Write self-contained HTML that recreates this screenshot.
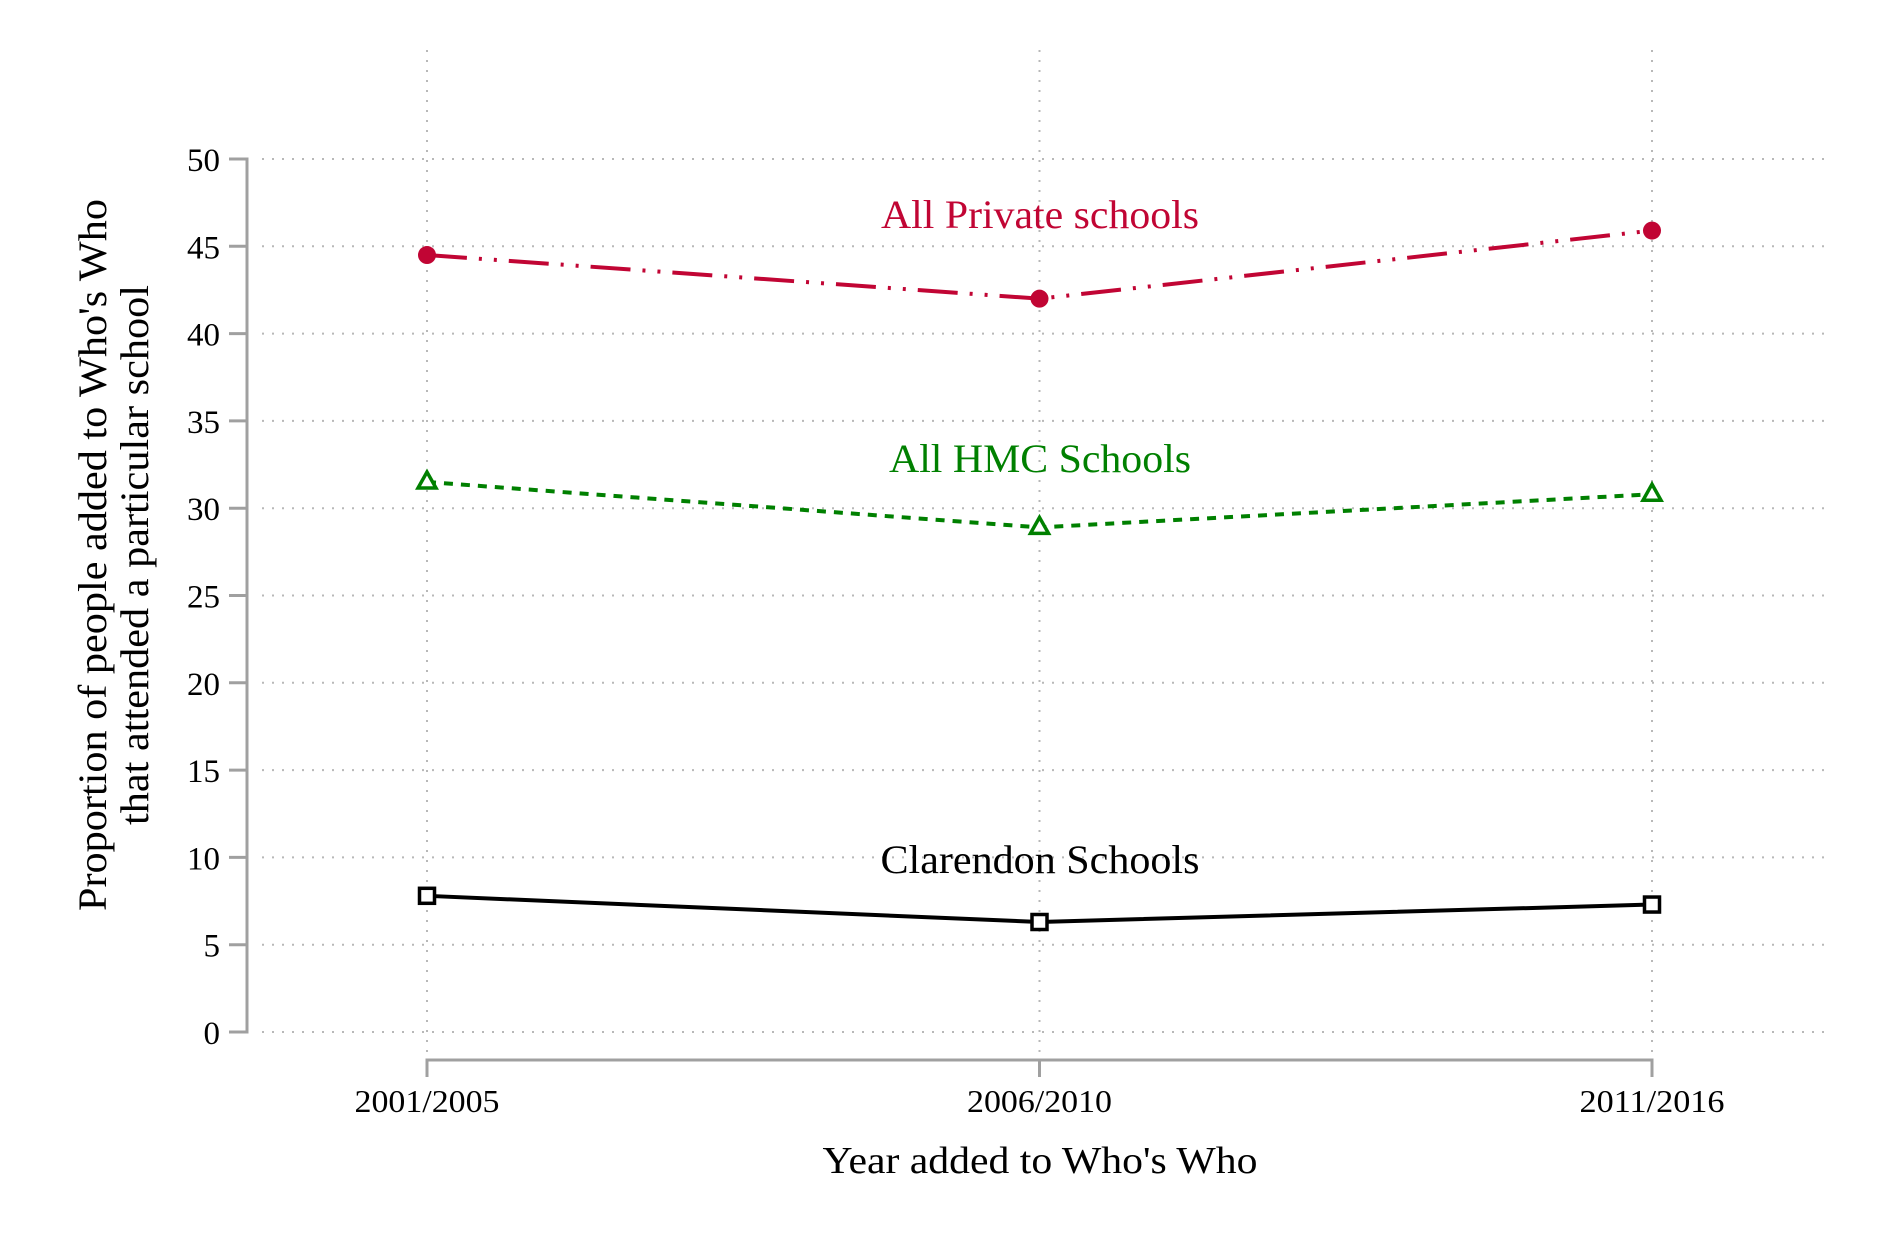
<!DOCTYPE html>
<html><head><meta charset="utf-8"><style>
html,body{margin:0;padding:0;background:#fff;}
svg{display:block;font-family:"Liberation Serif",serif;}
</style></head><body>
<svg id="chart" width="1878" height="1252" viewBox="0 0 1878 1252" xmlns="http://www.w3.org/2000/svg">
<rect width="1878" height="1252" fill="#fff"/>
<g id="grid"></g>
<g id="axes"></g>
<g id="series"></g>
<text transform="translate(106,555) rotate(-90)" text-anchor="middle" font-size="40" textLength="712" lengthAdjust="spacingAndGlyphs">Proportion of people added to Who's Who</text>
<text transform="translate(148,555) rotate(-90)" text-anchor="middle" font-size="40" textLength="540" lengthAdjust="spacingAndGlyphs">that attended a particular school</text>
<text x="1040" y="1173" text-anchor="middle" font-size="38" textLength="435" lengthAdjust="spacingAndGlyphs">Year added to Who's Who</text>
</svg>
<script>
const categories = ["2001/2005","2006/2010","2011/2016"];
const privateVals = [44.5, 42.0, 45.9];
const hmcVals = [31.5, 28.9, 30.8];
const clarendonVals = [7.8, 6.3, 7.3];
const yTicks = [0,5,10,15,20,25,30,35,40,45,50];
const seriesNames = ["All Private schools","All HMC Schools","Clarendon Schools"];

const NS="http://www.w3.org/2000/svg";
const xPos = i => 427 + i*612.5;
const yPos = v => 1032 - v*17.46;
function mk(tag, attrs, parent, txt){const e=document.createElementNS(NS,tag);for(const k in attrs)e.setAttribute(k,attrs[k]);if(txt!==undefined)e.textContent=txt;parent.appendChild(e);return e;}
const grid=document.getElementById('grid'), axes=document.getElementById('axes'), series=document.getElementById('series');

yTicks.forEach(t=>{
  const g=mk('line',{x1:262,x2:1830,y1:yPos(t),y2:yPos(t),stroke:'#b8b8b8','stroke-width':2,'stroke-dasharray':'2 8'},grid);
  
  
  const tk=mk('line',{x1:229,x2:247,y1:yPos(t),y2:yPos(t),stroke:'#a0a0a0','stroke-width':3},axes);
  
  
  const lb=mk('text',{x:220,y:yPos(t)+12,'text-anchor':'end','font-size':33},axes,String(t));
  
  
});
categories.forEach((c,i)=>{
  const g=mk('line',{x1:xPos(i),x2:xPos(i),y1:50,y2:1052,stroke:'#b8b8b8','stroke-width':2,'stroke-dasharray':'2 8'},grid);
  
  
  const tk=mk('line',{x1:xPos(i),x2:xPos(i),y1:1060,y2:1077,stroke:'#a0a0a0','stroke-width':3},axes);
  
  
  const lb=mk('text',{x:xPos(i),y:1112,'text-anchor':'middle','font-size':32,textLength:145,lengthAdjust:'spacingAndGlyphs'},axes,c);
  
  
});
const ya=mk('line',{x1:247,x2:247,y1:yPos(50)-1.5,y2:yPos(0)+1.5,stroke:'#a0a0a0','stroke-width':3},axes);


const xa=mk('line',{x1:xPos(0)-1.5,x2:xPos(2)+1.5,y1:1060,y2:1060,stroke:'#a0a0a0','stroke-width':3},axes);



function drawSeries(vals,color,dash,marker,name,label,labelY,labelW){
  const pts=vals.map((v,i)=>xPos(i)+','+yPos(v)).join(' ');
  const pl=mk('polyline',{points:pts,fill:'none',stroke:color,'stroke-width':4,'stroke-dasharray':dash},series);
  
  
  vals.forEach((v,i)=>{
    const x=xPos(i),y=yPos(v);let m;
    if(marker==='circle') m=mk('circle',{cx:x,cy:y,r:9,fill:color},series);
    else if(marker==='tri') m=mk('polygon',{points:`${x},${y-10} ${x-9},${y+6} ${x+9},${y+6}`,fill:'#fff',stroke:color,'stroke-width':3.5},series);
    else m=mk('rect',{x:x-7.5,y:y-7.5,width:15,height:15,fill:'#fff',stroke:color,'stroke-width':3.5},series);
    
    
  });
  const t=mk('text',{x:1040,y:labelY,'text-anchor':'middle','font-size':40,fill:color,textLength:labelW,lengthAdjust:'spacingAndGlyphs'},series,label);
  
  
}
drawSeries(privateVals,'#c10534','40 12 3 12 3 12','circle','private-schools',seriesNames[0],228,318);
drawSeries(hmcVals,'#008000','9 8','tri','hmc-schools',seriesNames[1],472,302);
drawSeries(clarendonVals,'#000','none','square','clarendon-schools',seriesNames[2],873,319);
</script>
</body></html>
